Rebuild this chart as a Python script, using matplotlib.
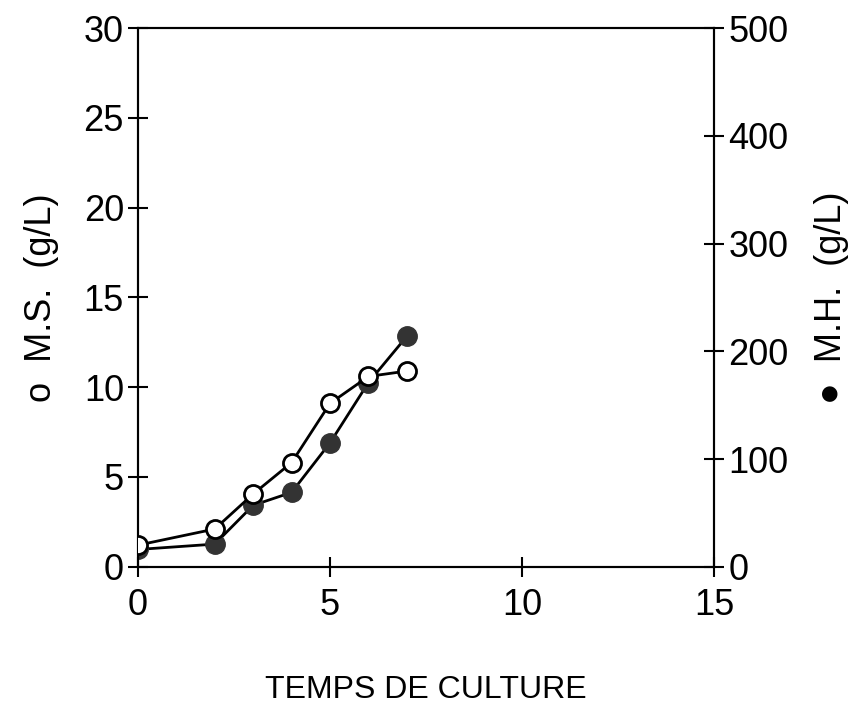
import numpy as np
import matplotlib
matplotlib.use("Agg")
import matplotlib.pyplot as plt

plt.rcParams['font.family'] = ['Liberation Sans', 'DejaVu Sans']

# temps de culture (jours)
jours = np.array([0, 2, 3, 4, 5, 6, 7])
ms = np.array([1.2, 2.1, 4.05, 5.8, 9.1, 10.6, 10.9])      # M.S. g/L (axe gauche)
mh = np.array([16, 21, 57, 69, 115, 171, 214])             # M.H. g/L (axe droit)

fig = plt.figure(figsize=(8.67, 7.04), dpi=100)
ax = fig.add_axes([0.159, 0.195, 0.665, 0.765])
ax2 = ax.twinx()

ax2.plot(jours, mh, '-', color='black', lw=2, marker='o', ms=14,
         mfc='#333333', mec='#333333', zorder=3)
ax.plot(jours, ms, '-', color='black', lw=2, marker='o', ms=13,
        mfc='white', mec='black', mew=2, zorder=4)
ax.set_zorder(ax2.get_zorder() + 1)
ax.patch.set_visible(False)

ax.set_xlim(0, 15)
ax.set_ylim(0, 30)
ax2.set_ylim(0, 500)
ax.set_xticks([0, 5, 10, 15])
ax.set_yticks([0, 5, 10, 15, 20, 25, 30])
ax2.set_yticks([0, 100, 200, 300, 400, 500])

for a in (ax, ax2):
    a.tick_params(direction='inout', length=14, width=1.5, labelsize=26, pad=3)
    for s in a.spines.values():
        s.set_linewidth(1.5)
ax.tick_params(axis='x', pad=8)

ax.set_xlabel('TEMPS DE CULTURE', fontsize=23, labelpad=38)
ax.set_ylabel('o  M.S.  (g/L)', fontsize=26, labelpad=18)
ax2.set_ylabel('\u25cf  M.H.  (g/L)', fontsize=26, rotation=90, labelpad=18)

fig.savefig('out.png', dpi=100)
